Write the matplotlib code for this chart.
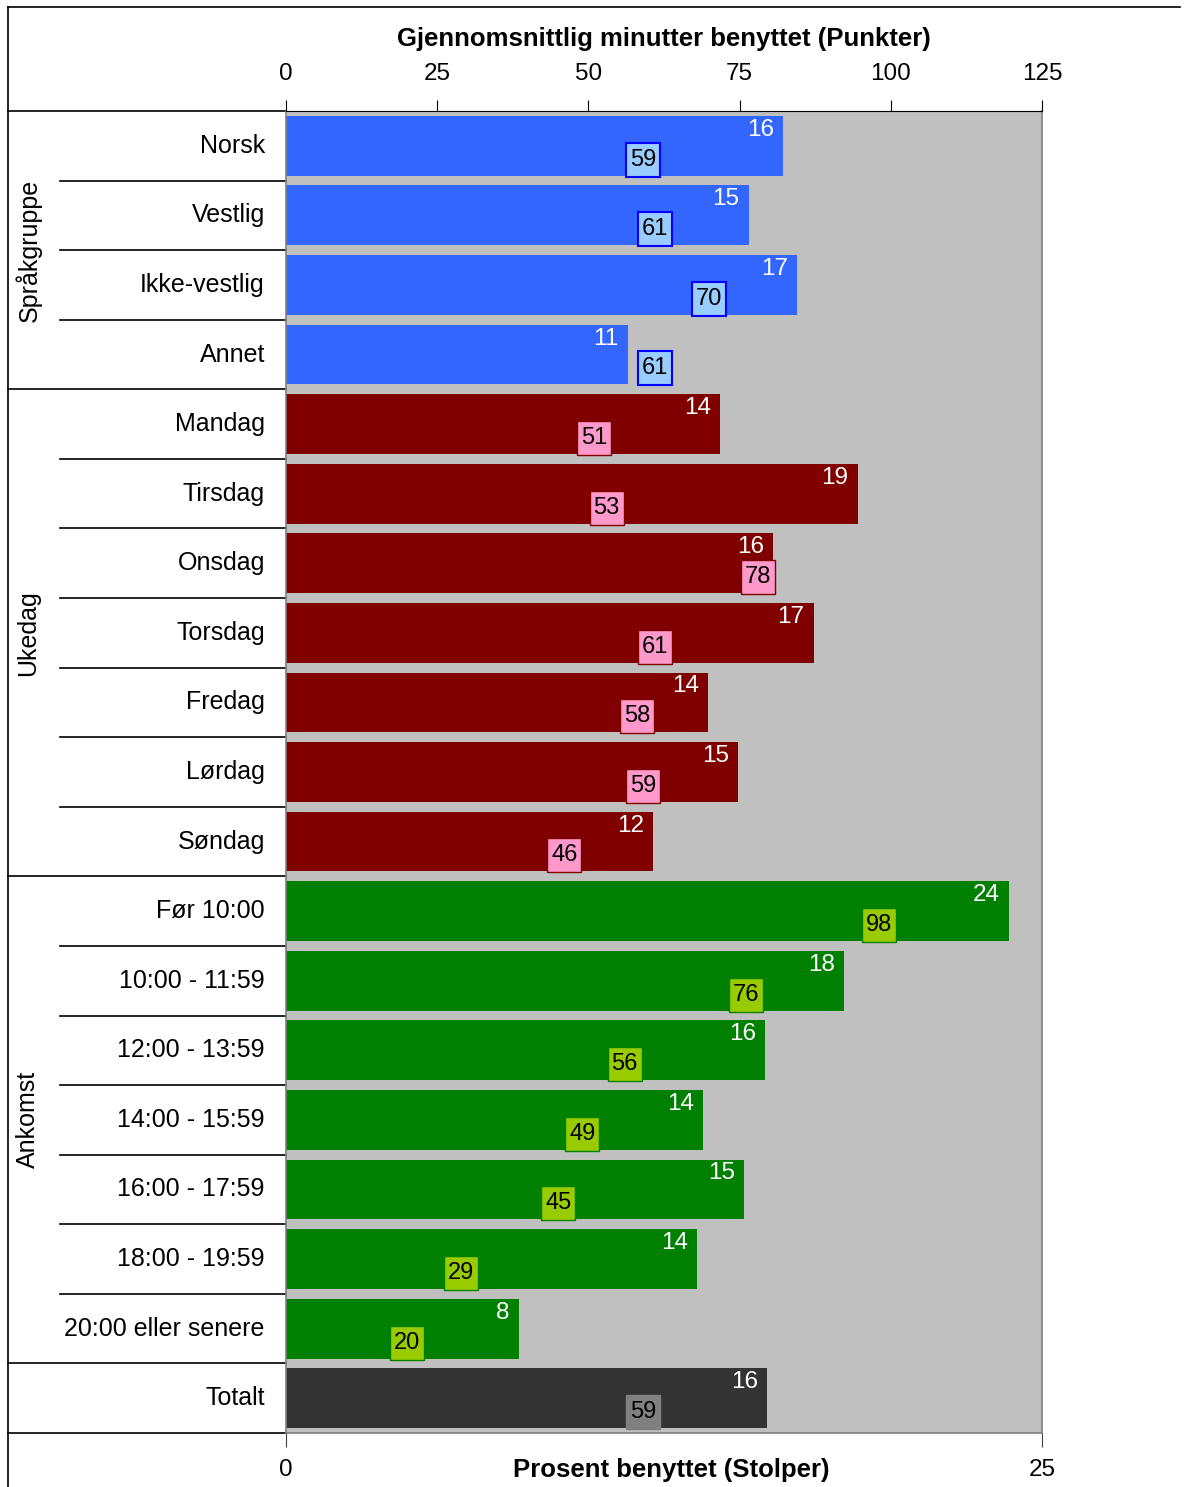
import matplotlib.pyplot as plt
from matplotlib.lines import Line2D

plt.rcParams['font.family'] = ['Liberation Sans', 'DejaVu Sans']

# data
kategorier = ["Norsk", "Vestlig", "Ikke-vestlig", "Annet",
              "Mandag", "Tirsdag", "Onsdag", "Torsdag", "Fredag", "Lørdag", "Søndag",
              "Før 10:00", "10:00 - 11:59", "12:00 - 13:59", "14:00 - 15:59",
              "16:00 - 17:59", "18:00 - 19:59", "20:00 eller senere", "Totalt"]
prosent = [16.45, 15.3, 16.9, 11.3, 14.35, 18.9, 16.1, 17.45, 13.95, 14.95, 12.15,
           23.9, 18.45, 15.85, 13.8, 15.15, 13.6, 7.7, 15.9]
minutter = [59, 61, 70, 61, 51, 53, 78, 61, 58, 59, 46, 98, 76, 56, 49, 45, 29, 20, 59]
grupper = ["Språkgruppe", "Ukedag", "Ankomst", ""]
gruppe_lengde = [4, 7, 7, 1]

bar_farger = ["#3366FF", "#800000", "#008000", "#333333"]
punkt_farger = ["#99CCFF", "#FF99CC", "#99CC00", "#808080"]
kant_farger = ["#0000FF", "#800000", "#008000", "#808080"]

gruppe_idx = []
for g, n in enumerate(gruppe_lengde):
    gruppe_idx += [g] * n

W, H = 1184, 1487
fig = plt.figure(figsize=(W / 100, H / 100), dpi=100)
x0, x1, y0, y1 = 286, 1042, 111, 1433
ax = fig.add_axes([x0 / W, 1 - y1 / H, (x1 - x0) / W, (y1 - y0) / H])
ax.set_facecolor("#C0C0C0")

n = len(kategorier)
ys = list(range(n))
ax.barh(ys, prosent, height=0.86, color=[bar_farger[g] for g in gruppe_idx], zorder=2)
ax.set_xlim(0, 25)
ax.set_ylim(n - 0.5, -0.5)
ax.set_yticks([])
ax.set_xticks([0, 25])
ax.set_xticklabels([])
ax.tick_params(axis="x", direction="out", length=10, color="#404040")
for s in ["left", "right", "bottom"]:
    ax.spines[s].set_color("#808080")
    ax.spines[s].set_linewidth(1.2)
ax.spines["top"].set_visible(False)

for i, p in enumerate(prosent):
    ax.text(p - 0.3, i - 0.23, "%.0f" % p, color="white", fontsize=17.5,
            ha="right", va="center", zorder=5)

ax2 = ax.twiny()
ax2.set_xlim(0, 125)
ax2.set_xticks([0, 25, 50, 75, 100, 125])
ax2.tick_params(axis="x", direction="out", length=8, labelsize=17.5, pad=11)
ax2.spines["top"].set_color("black")
for s in ["left", "right", "bottom"]:
    ax2.spines[s].set_visible(False)
for i, m in enumerate(minutter):
    g = gruppe_idx[i]
    ax2.plot(m, i + 0.2, marker="s", markersize=24.5, markerfacecolor=punkt_farger[g],
             markeredgecolor=kant_farger[g], markeredgewidth=1.5 if g == 0 else 1,
             zorder=4, clip_on=False)
    ax2.text(m, i + 0.2, str(m), fontsize=17, ha="center", va="center", zorder=6)
ax2.set_ylim(n - 0.5, -0.5)
ax2.set_xlabel("Gjennomsnittlig minutter benyttet (Punkter)", fontsize=18.5,
               fontweight="bold", labelpad=12)

# kategori-tekster og skillelinjer
ty = ax.get_yaxis_transform()
for i, k in enumerate(kategorier):
    ax.text(-0.028, i, k, fontsize=18, ha="right", va="center", transform=ty)
lx_kort = (60 - x0) / (x1 - x0)
lx_lang = (8 - x0) / (x1 - x0)
start = 0
for g, lengde in enumerate(gruppe_lengde):
    for j in range(1, lengde):
        ax.plot([lx_kort, 0], [start + j - 0.5] * 2, color="black", lw=1.2,
                transform=ty, clip_on=False)
    ax.plot([lx_lang, 0], [start - 0.5] * 2, color="black", lw=1.2,
            transform=ty, clip_on=False)
    if grupper[g]:
        ax.text((28 - x0) / (x1 - x0), start + (lengde - 1) / 2, grupper[g],
                fontsize=18, rotation=90, ha="center", va="center", transform=ty)
    start += lengde
ax.plot([lx_lang, 0], [start - 0.5] * 2, color="black", lw=1.2, transform=ty, clip_on=False)

# nedre akse-tekster
ax.text(0, -0.028, "0", fontsize=17.5, ha="center", va="center",
        transform=ax.get_xaxis_transform())
ax.text(25, -0.028, "25", fontsize=17.5, ha="center", va="center",
        transform=ax.get_xaxis_transform())
ax.text(0.51, -0.028, "Prosent benyttet (Stolper)", fontsize=18.5, fontweight="bold",
        ha="center", va="center", transform=ax.transAxes)

# ytre ramme
fig.add_artist(Line2D([8 / W, 8 / W], [0, 1 - 7 / H], color="black", lw=1.2))
fig.add_artist(Line2D([8 / W, 1180 / W], [1 - 7 / H, 1 - 7 / H], color="black", lw=1.2))

fig.savefig("out.png", dpi=100)
